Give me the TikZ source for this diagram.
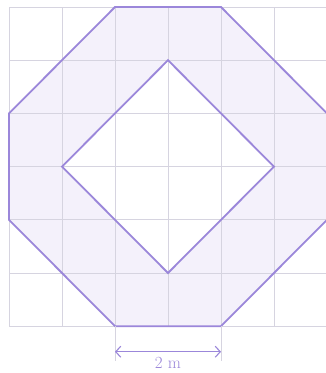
\documentclass[tikz,border=0pt]{standalone}
\usetikzlibrary{arrows.meta}
\definecolor{lav}{RGB}{155,135,218}
\definecolor{lavfill}{RGB}{244,241,251}
\definecolor{gridc}{RGB}{214,212,224}
\tikzset{
  gridline/.style={draw=gridc,line width=0.8pt},
  shapeline/.style={draw=lav,line width=1.8pt,line join=miter},
  extline/.style={draw=gridc,line width=0.7pt},
  dimarrow/.style={draw=lav,line width=1.1pt,{Straight Barb[length=5pt,width=11pt]}-{Straight Barb[length=5pt,width=11pt]}},
  dimlabel/.style={text=lav,font=\fontsize{17}{19}\selectfont,anchor=base,inner sep=1pt}
}
\begin{document}
\begin{tikzpicture}[x=1pt,y=-1pt]
\useasboundingbox (0,0) rectangle (326,373);
\fill[white] (0,0) rectangle (326,373);
\begin{scope}[shift={(9,7)},x=53pt,y=-53.2pt]
  % filled ring
  \fill[lavfill] (2,0) -- (4,0) -- (6,2) -- (6,4) -- (4,6) -- (2,6) -- (0,4) -- (0,2) -- cycle;
  \fill[white] (3,1) -- (5,3) -- (3,5) -- (1,3) -- cycle;
  % grid
  \foreach \k in {0,...,6} {
    \draw[gridline] (\k,0) -- (\k,6);
    \draw[gridline] (0,\k) -- (6,\k);
  }
  % shapes
  \draw[shapeline] (2,0) -- (4,0) -- (6,2) -- (6,4) -- (4,6) -- (2,6) -- (0,4) -- (0,2) -- cycle;
  \draw[shapeline] (3,1) -- (5,3) -- (3,5) -- (1,3) -- cycle;
  % dimension
  \coordinate (e1t) at (2,6);
  \coordinate (e1b) at (2,6.66);
  \coordinate (e2t) at (4,6);
  \coordinate (e2b) at (4,6.66);
  \coordinate (a1) at (2,6.48);
  \coordinate (a2) at (4,6.48);
  \draw[extline] (e1t) -- (e1b);
  \draw[extline] (e2t) -- (e2b);
  \draw[dimarrow] (a1) -- (a2);
  \node[dimlabel] (lbl) at (3,6.79) {2 m};
\end{scope}
\end{tikzpicture}
\end{document}
